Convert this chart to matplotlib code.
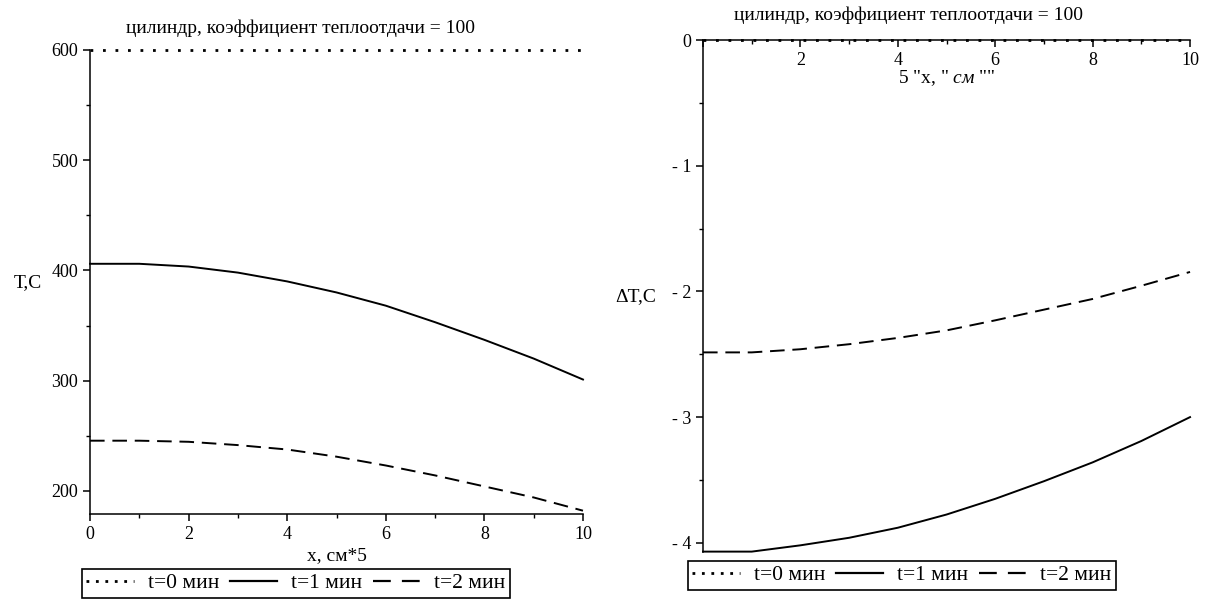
import numpy as np
import matplotlib
matplotlib.use("Agg")
import matplotlib.pyplot as plt
from matplotlib.lines import Line2D
from matplotlib.ticker import MultipleLocator, FuncFormatter

#fonts, times-like like the maple export
plt.rcParams['font.family'] = ['Liberation Serif', 'DejaVu Serif']
plt.rcParams['mathtext.fontset'] = 'custom'
plt.rcParams['mathtext.rm'] = 'Liberation Serif'
plt.rcParams['mathtext.it'] = 'Liberation Serif:italic'

#data
x = [0, 1, 2, 3, 4, 5, 6, 7, 8, 9, 10]
T0 = [600, 600, 600, 600, 600, 600, 600, 600, 600, 600, 600]
T1 = [406, 406, 403.5, 398, 390, 380, 368, 353, 337, 320, 301]
T2 = [245.5, 245.5, 244.5, 241.5, 237.5, 231, 223, 214, 204, 194, 182]
dT0 = [0, 0, 0, 0, 0, 0, 0, 0, 0, 0, 0]
dT1 = [-4.07, -4.07, -4.02, -3.96, -3.88, -3.775, -3.65, -3.51, -3.36, -3.19, -3.0]
dT2 = [-2.485, -2.485, -2.46, -2.42, -2.37, -2.31, -2.23, -2.145, -2.06, -1.955, -1.845]
labels = ["t=0 мин", "t=1 мин", "t=2 мин"]
title = "цилиндр, коэффициент теплоотдачи = 100"

fs = 13      #tick labels
lfs = 14     #axis labels, titles
legfs = 15.5 #legend
lw = 1.4
dotted = (0, (1, 3.5))
dashed = (0, (7.5, 4))

#legend handles (maple draws them with their own dash lengths)
handles = [Line2D([], [], color='black', lw=2.0, linestyle=(0, (1, 2.4))),
           Line2D([], [], color='black', lw=1.6),
           Line2D([], [], color='black', lw=1.6, linestyle=(0, (8, 5)))]

fig = plt.figure(figsize=(12.1, 6.02), dpi=100)

#left plot
ax1 = fig.add_axes([0.0744, 0.1462, 0.4074, 0.7708])
ax1.plot(x, T0, color='black', lw=2.0, linestyle=dotted, clip_on=False)
ax1.plot(x, T1, color='black', lw=lw, clip_on=False)
ax1.plot(x, T2, color='black', lw=lw, linestyle=dashed, clip_on=False)
ax1.set_xlim(0, 10)
ax1.set_ylim(179, 600)
ax1.spines['top'].set_visible(False)
ax1.spines['right'].set_visible(False)
for s in ['left', 'bottom']:
    ax1.spines[s].set_linewidth(1.1)
ax1.xaxis.set_major_locator(MultipleLocator(2))
ax1.xaxis.set_minor_locator(MultipleLocator(1))
ax1.yaxis.set_major_locator(MultipleLocator(100))
ax1.yaxis.set_minor_locator(MultipleLocator(50))
ax1.tick_params(which='major', length=5, width=1.1, labelsize=fs)
ax1.tick_params(which='minor', length=3, width=1.0)
ax1.set_xlabel("x, см*5", fontsize=lfs, labelpad=3)
fig.text(28/1210, 1 - 283/602, "T,C", fontsize=lfs, ha='center', va='center')
fig.text(301/1210, 1 - 28/602, title, fontsize=lfs, ha='center', va='center')
leg1 = fig.legend(handles, labels, loc='upper left', bbox_to_anchor=(82/1210, 1 - 569/602),
                  ncol=3, fontsize=legfs, frameon=True, fancybox=False, framealpha=1,
                  edgecolor='black', handlelength=2.2, columnspacing=0.5,
                  handletextpad=0.65, borderpad=0.2, borderaxespad=0)
leg1.get_frame().set_linewidth(1.2)

#right plot, difference
ax2 = fig.add_axes([0.581, 0.0837, 0.4025, 0.8498])
ax2.plot(x, dT0, color='black', lw=2.0, linestyle=dotted, clip_on=False, zorder=3)
ax2.plot(x, dT1, color='black', lw=lw, clip_on=False)
ax2.plot(x, dT2, color='black', lw=lw, linestyle=dashed, clip_on=False)
ax2.set_xlim(0, 10)
ax2.set_ylim(-4.07, 0)
ax2.spines['top'].set_visible(False)
ax2.spines['right'].set_visible(False)
ax2.spines['bottom'].set_position(('data', 0))
for s in ['left', 'bottom']:
    ax2.spines[s].set_linewidth(1.1)
ax2.xaxis.set_major_locator(MultipleLocator(2))
ax2.xaxis.set_minor_locator(MultipleLocator(1))
ax2.yaxis.set_major_locator(MultipleLocator(1))
ax2.yaxis.set_minor_locator(MultipleLocator(0.5))
ax2.xaxis.set_major_formatter(FuncFormatter(lambda v, p: "" if v == 0 else f"{v:g}"))
ax2.yaxis.set_major_formatter(FuncFormatter(lambda v, p: f"- {abs(v):g}" if v < 0 else f"{v:g}"))
ax2.tick_params(which='major', length=5, width=1.1, labelsize=fs)
ax2.tick_params(which='minor', length=3, width=1.0)
ax2.set_xlabel('5 "x, " $см$ ""', fontsize=lfs)
ax2.xaxis.set_label_coords(0.5, 0.945)
fig.text(636/1210, 1 - 297/602, "ΔT,C", fontsize=lfs, ha='center', va='center')
fig.text(909/1210, 1 - 15/602, title, fontsize=lfs, ha='center', va='center')
leg2 = fig.legend(handles, labels, loc='upper left', bbox_to_anchor=(688/1210, 1 - 561/602),
                  ncol=3, fontsize=legfs, frameon=True, fancybox=False, framealpha=1,
                  edgecolor='black', handlelength=2.2, columnspacing=0.5,
                  handletextpad=0.65, borderpad=0.2, borderaxespad=0)
leg2.get_frame().set_linewidth(1.2)

fig.savefig("out.png", dpi=100)
